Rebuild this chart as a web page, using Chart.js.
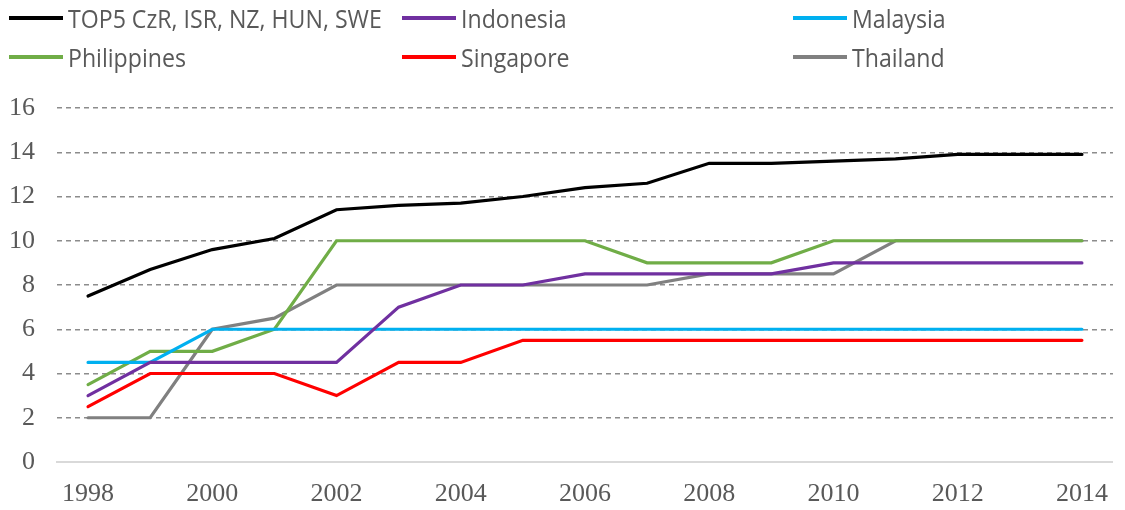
<!DOCTYPE html>
<html>
<head>
<meta charset="utf-8">
<script src="https://cdn.jsdelivr.net/npm/chart.js@4.4.1/dist/chart.umd.min.js"></script>
<style>
  html, body { margin: 0; padding: 0; background: #fff; }
  #wrap { position: relative; width: 1125px; height: 510px; }
  #chart { position: absolute; left: 0; top: 0; }
  .leg { position: absolute; height: 30px; display: flex; align-items: center;
         font-family: "Open Sans", sans-serif; font-size: 25px; color: #595959; white-space: nowrap; }
  .leg i { display: inline-block; width: 54px; height: 4px; margin-right: 5px; }
  .leg span { display: inline-block; transform-origin: left center; transform: scaleX(0.925); }
</style>
</head>
<body>
<div id="wrap">
  <canvas id="chart" width="1125" height="510"></canvas>
</div>
<script>
/* ---- data ---- */
const years = ['1998','1999','2000','2001','2002','2003','2004','2005','2006',
               '2007','2008','2009','2010','2011','2012','2013','2014'];

const top5        = [7.5, 8.7, 9.6, 10.1, 11.4, 11.6, 11.7, 12.0, 12.4, 12.6, 13.5, 13.5, 13.6, 13.7, 13.9, 13.9, 13.9];
const indonesia   = [3.0, 4.5, 4.5, 4.5, 4.5, 7.0, 8.0, 8.0, 8.5, 8.5, 8.5, 8.5, 9.0, 9.0, 9.0, 9.0, 9.0];
const malaysia    = [4.5, 4.5, 6.0, 6.0, 6.0, 6.0, 6.0, 6.0, 6.0, 6.0, 6.0, 6.0, 6.0, 6.0, 6.0, 6.0, 6.0];
const philippines = [3.5, 5.0, 5.0, 6.0, 10, 10, 10, 10, 10, 9.0, 9.0, 9.0, 10, 10, 10, 10, 10];
const singapore   = [2.5, 4.0, 4.0, 4.0, 3.0, 4.5, 4.5, 5.5, 5.5, 5.5, 5.5, 5.5, 5.5, 5.5, 5.5, 5.5, 5.5];
const thailand    = [2.0, 2.0, 6.0, 6.5, 8.0, 8.0, 8.0, 8.0, 8.0, 8.0, 8.5, 8.5, 8.5, 10, 10, 10, 10];

const yTicks = [0, 2, 4, 6, 8, 10, 12, 14, 16];

const series = [
  { label: 'TOP5 CzR, ISR, NZ, HUN, SWE', data: top5,        color: '#000000' },
  { label: 'Indonesia',                   data: indonesia,   color: '#7030a0' },
  { label: 'Malaysia',                    data: malaysia,    color: '#00b0f0' },
  { label: 'Philippines',                 data: philippines, color: '#70ad47' },
  { label: 'Singapore',                   data: singapore,   color: '#ff0000' },
  { label: 'Thailand',                    data: thailand,    color: '#808080' },
];

/* ---- legend (3 columns x 2 rows) ---- */
const legCols = [9, 402, 793];
const legRows = [3, 42];
const wrap = document.getElementById('wrap');
series.forEach((s, i) => {
  const el = document.createElement('div');
  el.className = 'leg';
  el.style.left = legCols[i % 3] + 'px';
  el.style.top  = legRows[Math.floor(i / 3)] + 'px';
  el.innerHTML = `<i style="background:${s.color}"></i><span>${s.label}</span>`;
  wrap.appendChild(el);
});

/* ---- chart ---- */
const tickFont = { family: "'Liberation Serif', serif", size: 26 };

new Chart(document.getElementById('chart'), {
  type: 'line',
  data: {
    labels: years,
    datasets: series.map(s => ({
      label: s.label,
      data: s.data,
      borderColor: s.color,
      backgroundColor: s.color,
      borderWidth: 3.2,
      pointRadius: 0,
      tension: 0,
      borderCapStyle: 'round',
    })),
  },
  options: {
    responsive: false,
    animation: false,
    layout: { padding: { top: 108, right: 3, left: 0, bottom: 0 } },
    plugins: { legend: { display: false }, tooltip: { enabled: false } },
    scales: {
      x: {
        offset: true,
        grid: { display: false, drawTicks: false },
        border: { display: true, color: '#d9d9d9', width: 2 },
        ticks: {
          font: tickFont, color: '#595959', padding: 17,
          autoSkip: false, maxRotation: 0,
          callback: (v, i) => (i % 2 === 0 ? years[i] : ''),
        },
        afterFit: a => { a.height = 48; },
      },
      y: {
        min: 0, max: 16,
        afterBuildTicks: a => { a.ticks = yTicks.map(v => ({ value: v })); },
        grid: {
          color: c => (c.tick.value === 0 ? 'rgba(0,0,0,0)' : '#8c8c8c'),
          lineWidth: 1.5,
          drawTicks: false,
        },
        border: { display: false, dash: [5, 4] },
        ticks: { font: tickFont, color: '#595959', padding: 22 },
        afterFit: a => { a.width = 57; },
      },
    },
  },
});
</script>
</body>
</html>
